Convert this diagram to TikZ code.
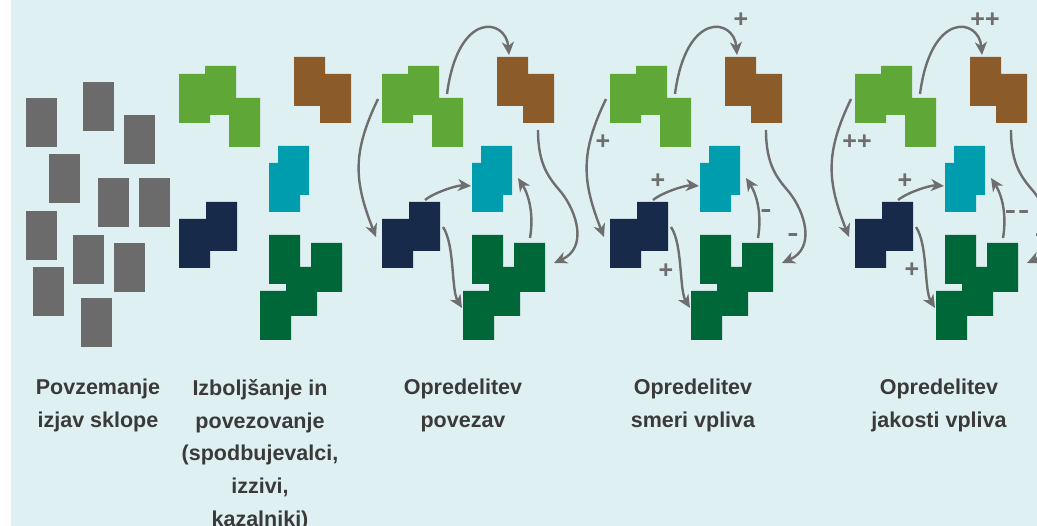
\documentclass[tikz,border=0pt]{standalone}
\usepackage{fontspec}
\setmainfont{Liberation Sans}
\usetikzlibrary{arrows.meta}
\definecolor{bg}{HTML}{DFF0F2}
\definecolor{cgray}{HTML}{6B6B6B}
\definecolor{clg}{HTML}{5FA737}
\definecolor{cbr}{HTML}{8B5B29}
\definecolor{cte}{HTML}{009DAE}
\definecolor{cnv}{HTML}{172A4A}
\definecolor{cdg}{HTML}{006838}
\definecolor{carr}{HTML}{6E6E6E}
\definecolor{ctxt}{HTML}{3A3A3A}
\tikzset{
  card/.style={fill=cgray},
  link/.style={draw=carr, line width=2.4pt, -{Stealth[length=13pt,width=12pt,inset=4pt]}},
  sign/.style={text=carr, font=\bfseries\fontsize{25}{25}\selectfont, inner sep=0pt, anchor=base},
  caption/.style={text=ctxt, font=\bfseries\fontsize{21.5}{32.8}\selectfont, align=center, anchor=north, inner sep=0pt},
}
\newcommand\mypieces{%
  \fill[clg] (179,74) -- (205,74) -- (205,66) -- (236,66) -- (236,98) -- (260,98) -- (260,147) -- (229,147) -- (229,115) -- (210,115) -- (210,123) -- (179,123) -- cycle;
  \fill[cbr] (294,57) -- (325,57) -- (325,74) -- (351,74) -- (351,123) -- (320,123) -- (320,106) -- (294,106) -- cycle;
  \fill[cte] (278,146) -- (309,146) -- (309,195) -- (300,195) -- (300,212) -- (269,212) -- (269,163) -- (278,163) -- cycle;
  \fill[cnv] (206,202) -- (237,202) -- (237,251) -- (210,251) -- (210,268) -- (179,268) -- (179,219) -- (206,219) -- cycle;
  \fill[cdg] (269,235) -- (300,235) -- (300,267) -- (311,267) -- (311,243) -- (342,243) -- (342,292) -- (317,292) -- (317,316) -- (291,316) -- (291,340) -- (260,340) -- (260,291) -- (286,291) -- (286,284) -- (269,284) -- cycle;
}
\newcommand\mylinks{%
  \coordinate (lgtop) at (244,94);
  \coordinate (brin) at (306,55);
  \coordinate (lgleft) at (175,99);
  \coordinate (nvin) at (173,237);
  \coordinate (nvup) at (222,200);
  \coordinate (tein) at (268,186);
  \coordinate (nvdown) at (240,227);
  \coordinate (dgin) at (259,308);
  \coordinate (dgup) at (327,238);
  \coordinate (tein2) at (315,178);
  \coordinate (brdown) at (335,130);
  \coordinate (bend) at (358,192);
  \coordinate (dgin2) at (351,263);
  \draw[link] (lgtop) .. controls +(11,-84) and +(-3,-37) .. (brin);
  \draw[link] (lgleft) .. controls +(-26,54) and +(-22,-56) .. (nvin);
  \draw[link] (nvup) .. controls +(10,-8) and +(-13,-1) .. (tein);
  \draw[link] (nvdown) .. controls +(12,18) and +(-11,-18) .. (dgin);
  \draw[link] (dgup) .. controls +(4,-23) and +(11,17) .. (tein2);
  \draw[link] (brdown) .. controls +(0,35) and +(-12,-14) .. (bend) .. controls +(16,20) and +(34,-15) .. (dgin2);
}
\newcommand\minus{\scalebox{1.35}[1]{-}}
\begin{document}
\begin{tikzpicture}[x=1pt,y=-1pt]
\useasboundingbox (0,0) rectangle (1037,526);
\clip (0,0) rectangle (1037,526);
\fill[bg] (11,0) rectangle (1037,526);
% panel 1
\fill[card] (26,98) rectangle (57,147);
\fill[card] (83,82) rectangle (114,131);
\fill[card] (124,115) rectangle (155,164);
\fill[card] (49,154) rectangle (80,203);
\fill[card] (98,178) rectangle (129,227);
\fill[card] (139,178) rectangle (170,227);
\fill[card] (26,211) rectangle (57,260);
\fill[card] (73,235) rectangle (104,284);
\fill[card] (114,243) rectangle (145,292);
\fill[card] (33,267) rectangle (64,316);
\fill[card] (81,298) rectangle (112,347);
% panel 2
\mypieces
% panel 3
\begin{scope}[shift={(203,0)}, name prefix=pc-]
\mypieces
\mylinks
\end{scope}
% panel 4
\begin{scope}[shift={(431,0)}, name prefix=pd-]
\mypieces
\mylinks
\node[sign] (pd-s1) at (310,28) {+};
\node[sign] (pd-s2) at (172,150) {+};
\node[sign] (pd-s3) at (227,189) {+};
\node[sign] (pd-s4) at (235,279) {+};
\node[sign] (pd-s5) at (335,218) {\minus};
\node[sign] (pd-s6) at (362,242) {\minus};
\end{scope}
% panel 5
\begin{scope}[shift={(676,0)}, name prefix=pe-]
\mypieces
\mylinks
\node[sign] (pe-s1) at (309,28) {++};
\node[sign] (pe-s2) at (181,150) {++};
\node[sign] (pe-s3) at (229,189) {+};
\node[sign] (pe-s4) at (236,278) {+};
\node[sign] (pe-s5) at (341,219) {\minus\kern2pt\minus};
\node[sign] (pe-s6) at (371,242) {\minus\kern2pt\minus};
\end{scope}
% captions
\node[caption] (t1) at (98,379) {Povzemanje\\izjav sklope};
\node[caption] (t2) at (260,379) {Izboljšanje in\\povezovanje\\(spodbujevalci,\\izzivi,\\kazalniki)};
\node[caption] (t3) at (463,379) {Opredelitev\\povezav};
\node[caption] (t4) at (693,379) {Opredelitev\\smeri vpliva};
\node[caption] (t5) at (939,379) {Opredelitev\\jakosti vpliva};
\end{tikzpicture}
\end{document}
